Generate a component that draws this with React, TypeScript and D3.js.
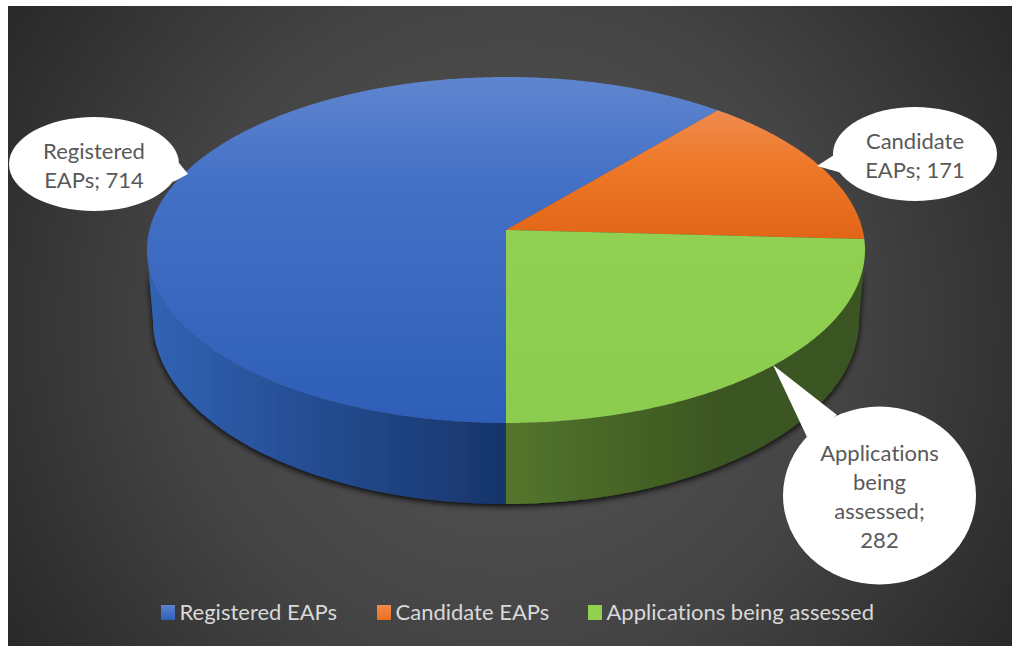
import React from "react";
import * as d3 from "d3";

const categories = ["Registered EAPs", "Candidate EAPs", "Applications being assessed"];
const values = [714, 171, 282];
const calloutLines = [
  ["Registered", "EAPs; 714"],
  ["Candidate", "EAPs; 171"],
  ["Applications", "being", "assessed;", "282"],
];
const swatchColors = ["url(#legBlue)", "url(#legOrange)", "#92d050"];

const W = 1012, H = 646;
const CX = 506;
const K = -0.1156; // perspective of the tilted pie

function projector(top: number, bottom: number, rx: number) {
  const y0 = (top * (1 - K) + bottom * (1 + K)) / 2;
  const b = y0 - top * (1 - K);
  const a = rx * Math.sqrt(1 - K * K);
  return (theta: number): [number, number] => {
    const u = Math.sin(theta), v = -Math.cos(theta);
    const d = 1 + K * v;
    return [CX + (a * u) / d, (y0 + b * v) / d];
  };
}
const rimTop = projector(77, 423, 359);
const rimBottom = projector(136, 504, 353);
const apex: [number, number] = [CX, (77 * (1 - K) + 423 * (1 + K)) / 2];

const line = d3.line<[number, number]>();
const sampled = (from: number, to: number) => {
  const n = Math.max(2, Math.ceil(Math.abs(to - from) / 0.01));
  return d3.range(n + 1).map((i) => from + ((to - from) * i) / n);
};

const arcs = d3.pie<number>().sort(null).startAngle(Math.PI).endAngle(3 * Math.PI)(values);

const wedgePath = (a: number, b: number) =>
  line([apex, ...sampled(a, b).map(rimTop)])! + "Z";
const sidePath = (a: number, b: number) =>
  line([...sampled(a, b).map(rimTop), ...sampled(b, a).map(rimBottom)])! + "Z";

const silhouetteL = Math.acos(K);
const silhouetteR = Math.PI * 2 - Math.acos(K);
const topFills = ["url(#topBlue)", "url(#topOrange)", "url(#topGreen)"];
const font = "Lato, 'Open Sans', sans-serif";

const callouts = [
  { cx: 94, cy: 164, rx: 85, ry: 47, tip: [188, 174], base: [[179, 163], [173, 182]], firstY: 150 },
  { cx: 915, cy: 154, rx: 82, ry: 47, tip: [817, 166], base: [[834, 155], [842, 173]], firstY: 140 },
  { cx: 879.5, cy: 495.5, rx: 96.5, ry: 89, tip: [773, 365], base: [[837, 415], [807, 437]], firstY: 452 },
];
const legendX = [161, 377, 588];

export default function App() {
  const blueSide = sidePath(Math.PI, silhouetteR);
  const greenSide = sidePath(silhouetteL, Math.PI);
  return (
    <svg width={W} height={H} viewBox={`0 0 ${W} ${H}`} style={{ position: "absolute", left: 0, top: 0 }}>
      <defs>
        <radialGradient id="bg" gradientUnits="userSpaceOnUse" cx={510} cy={326} r={610}>
          <stop offset="0" stopColor="#565656" />
          <stop offset="0.55" stopColor="#444444" />
          <stop offset="1" stopColor="#272727" />
        </radialGradient>
        <linearGradient id="topBlue" gradientUnits="userSpaceOnUse" x1={0} x2={0} y1={77} y2={423}>
          <stop offset="0" stopColor="#5f85cf" />
          <stop offset="0.3" stopColor="#4471c6" />
          <stop offset="1" stopColor="#2e5eb7" />
        </linearGradient>
        <linearGradient id="topOrange" gradientUnits="userSpaceOnUse" x1={0} x2={0} y1={108} y2={240}>
          <stop offset="0" stopColor="#ef8c50" />
          <stop offset="0.4" stopColor="#ee7a2a" />
          <stop offset="1" stopColor="#e26516" />
        </linearGradient>
        <linearGradient id="topGreen" gradientUnits="userSpaceOnUse" x1={0} x2={0} y1={230} y2={423}>
          <stop offset="0" stopColor="#91d051" />
          <stop offset="1" stopColor="#8bcc4e" />
        </linearGradient>
        <linearGradient id="sideBlue" gradientUnits="userSpaceOnUse" x1={150} x2={506} y1={0} y2={0}>
          <stop offset="0" stopColor="#3163b4" />
          <stop offset="0.4" stopColor="#264f96" />
          <stop offset="1" stopColor="#17356a" />
        </linearGradient>
        <linearGradient id="sideGreen" gradientUnits="userSpaceOnUse" x1={506} x2={860} y1={0} y2={0}>
          <stop offset="0" stopColor="#54762d" />
          <stop offset="0.6" stopColor="#3b5620" />
          <stop offset="1" stopColor="#3a5520" />
        </linearGradient>
        <linearGradient id="legBlue" x1={0} x2={0} y1={0} y2={1}>
          <stop offset="0" stopColor="#5b82cc" />
          <stop offset="1" stopColor="#2f5fb8" />
        </linearGradient>
        <linearGradient id="legOrange" x1={0} x2={0} y1={0} y2={1}>
          <stop offset="0" stopColor="#f08a4c" />
          <stop offset="1" stopColor="#ea6f1f" />
        </linearGradient>
        <filter id="shadow" x="-10%" y="-10%" width="120%" height="120%">
          <feDropShadow dx={0} dy={2} stdDeviation={3} floodColor="#000" floodOpacity={0.95} />
        </filter>
      </defs>
      <rect width={W} height={H} fill="#ffffff" />
      <rect x={8} y={6} width={W - 8} height={H - 6} fill="url(#bg)" />

      <g filter="url(#shadow)">
        <path d={blueSide} fill="url(#sideBlue)" />
        <path d={greenSide} fill="url(#sideGreen)" />
      </g>
      {arcs.map((a, i) => (
        <path key={i} d={wedgePath(a.startAngle, a.endAngle)} fill={topFills[i]} />
      ))}

      {callouts.map((c, i) => (
        <g key={i}>
          <ellipse cx={c.cx} cy={c.cy} rx={c.rx} ry={c.ry} fill="#ffffff" />
          <polygon
            points={[c.tip, ...c.base].map((p) => p.join(",")).join(" ")}
            fill="#ffffff"
          />
          {calloutLines[i].map((t, j) => (
            <text
              key={j}
              x={c.cx}
              y={c.firstY + j * 29}
              textAnchor="middle"
              dominantBaseline="central"
              fontFamily={font}
              fontSize={22}
              fill="#595959"
              style={{ fontVariantLigatures: "none" }}
            >
              {t}
            </text>
          ))}
        </g>
      ))}

      {categories.map((name, i) => (
        <g key={name}>
          <rect x={legendX[i]} y={605} width={14} height={15} fill={swatchColors[i]} />
          <text
            x={legendX[i] + 18.5}
            y={611}
            dominantBaseline="central"
            fontFamily={font}
            fontSize={22}
            fill="#d9d9d9"
            style={{ fontVariantLigatures: "none" }}
          >
            {name}
          </text>
        </g>
      ))}
    </svg>
  );
}
